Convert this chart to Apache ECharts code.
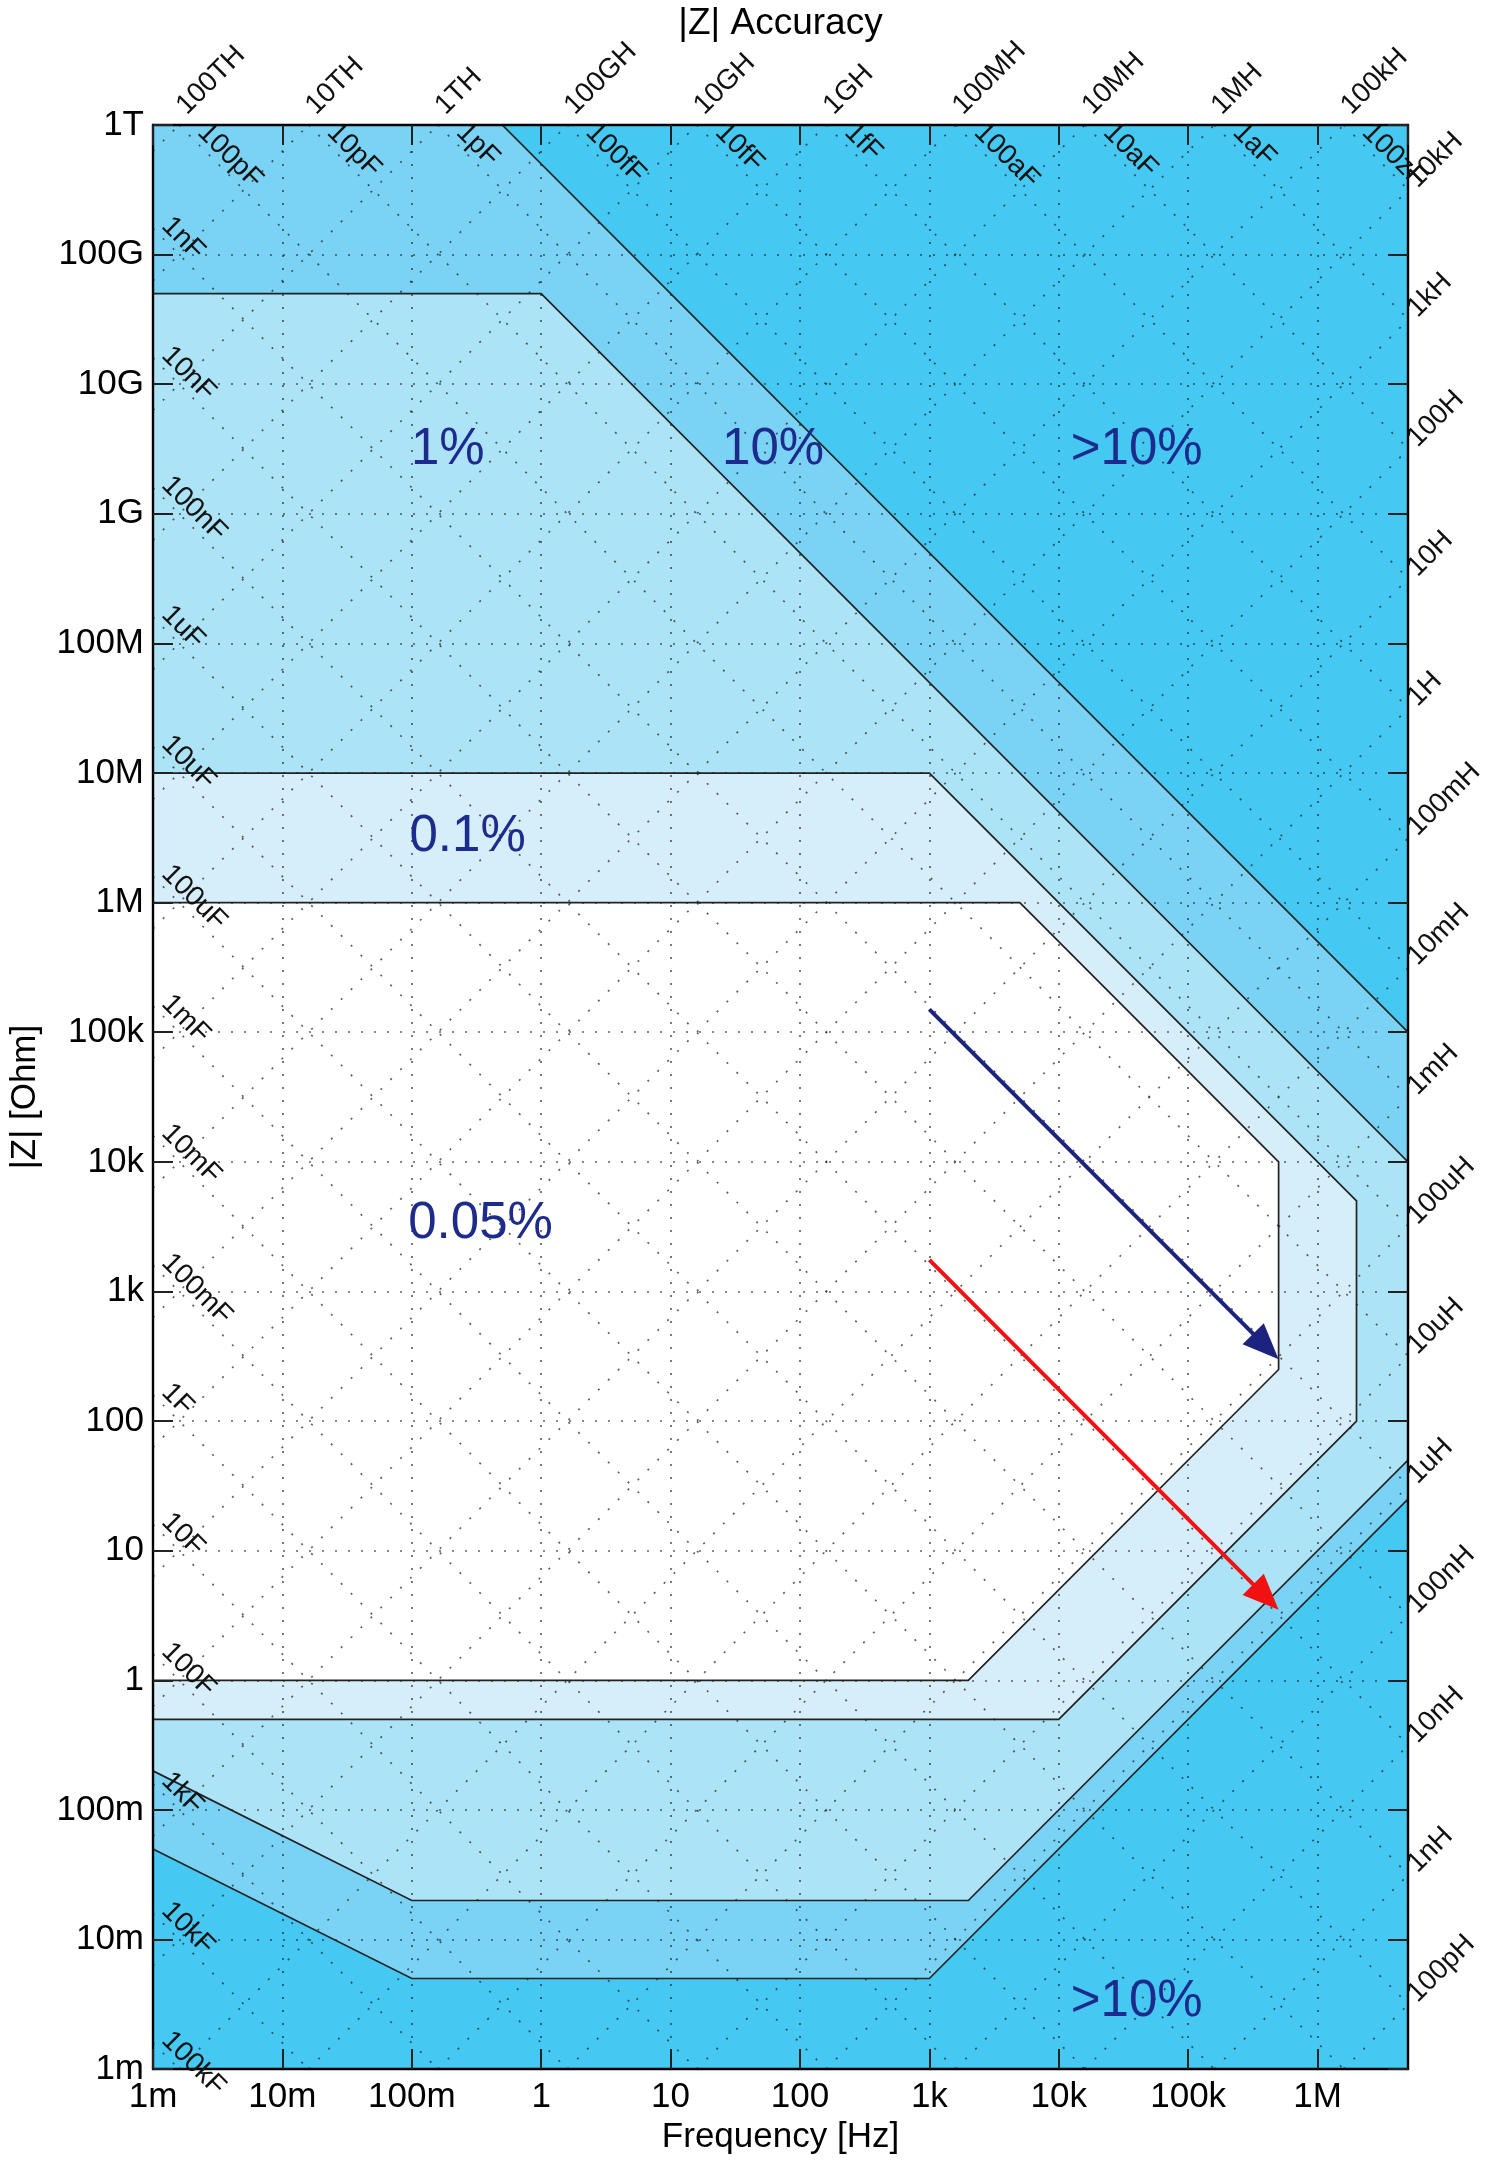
<!DOCTYPE html>
<html>
<head>
<meta charset="utf-8">
<script src="https://cdn.jsdelivr.net/npm/echarts@6/dist/echarts.min.js"></script>
<style>
html,body{margin:0;padding:0;background:#fff;}
#chart{width:1486px;height:2160px;}
</style>
</head>
<body>
<div id="chart"></div>
<script>
// ---------- axis ranges (Hz, Ohm) ----------
const freqRange = [1e-3, 5e6];
const zRange = [1e-3, 1e12];

// ---------- tick labels ----------
const xTickLabels = ['1m','10m','100m','1','10','100','1k','10k','100k','1M'];
const yTickLabels = ['1m','10m','100m','1','10','100','1k','10k','100k','1M','10M','100M','1G','10G','100G','1T'];

// capacitance (constant-C diagonals) [F]
const capValues = [1e-19,1e-18,1e-17,1e-16,1e-15,1e-14,1e-13,1e-12,1e-11,1e-10,1e-9,1e-8,1e-7,1e-6,1e-5,1e-4,1e-3,1e-2,1e-1,1,10,100,1e3,1e4,1e5];
const capLabels = ['100zF','1aF','10aF','100aF','1fF','10fF','100fF','1pF','10pF','100pF','1nF','10nF','100nF','1uF','10uF','100uF','1mF','10mF','100mF','1F','10F','100F','1kF','10kF','100kF'];

// inductance (constant-L diagonals) [H]
const indValues = [1e-10,1e-9,1e-8,1e-7,1e-6,1e-5,1e-4,1e-3,1e-2,1e-1,1,10,100,1e3,1e4,1e5,1e6,1e7,1e8,1e9,1e10,1e11,1e12,1e13,1e14];
const indLabels = ['100pH','1nH','10nH','100nH','1uH','10uH','100uH','1mH','10mH','100mH','1H','10H','100H','1kH','10kH','100kH','1MH','10MH','100MH','1GH','10GH','100GH','1TH','10TH','100TH'];

// ---------- accuracy zone outlines [f Hz, |Z| Ohm] ----------
const zone10 = [[1e-3,1e12],[0.5,1e12],[5e6,1e5],[5e6,25],[1e3,5e-3],[0.1,5e-3],[1e-3,5e-2]];
const zone1 = [[1e-3,5e10],[1,5e10],[5e6,1e4],[5e6,50],[2e3,2e-2],[0.1,2e-2],[1e-3,0.2]];
const zone01 = [[1e-3,1e7],[1e3,1e7],[2e6,5e3],[2e6,100],[1e4,0.5],[1e-3,0.5]];
const zone005 = [[1e-3,1e6],[5e3,1e6],[5e5,1e4],[5e5,250],[2e3,1],[1e-3,1]];

// zone annotations
const zoneTexts = ['1%','10%','>10%','0.1%','0.05%','>10%'];
const zoneTextPos = [[0.19,3.1e9],[62,3.1e9],[4e4,3.1e9],[0.27,3.2e6],[0.34,3.3e3],[4e4,3.3e-3]];

// arrows
const arrowFrom = [[1e3,1.5e5],[1e3,1750]];
const arrowTo = [[5e5,300],[5e5,3.5]];
const arrowColors = ['#1b237f','#f01212'];

// ---------- helpers ----------
const lg = Math.log10;
const LX0 = lg(freqRange[0]), LX1 = lg(freqRange[1]);
const LY0 = lg(zRange[0]), LY1 = lg(zRange[1]);
const TWO_PI = 2 * Math.PI;
const FONT = '"Liberation Sans", Arial, Helvetica, sans-serif';

function toLog(p){ return [lg(p[0]), lg(p[1])]; }

function zoneSeries(pts, fill, z){
  return {
    type:'custom', clip:true, silent:true, z:z,
    data: pts.map(toLog),
    encode:{x:0,y:1},
    renderItem:function(params, api){
      if (params.dataIndex !== 0) return null;
      const points = pts.map(function(p){ return api.coord(toLog(p)); });
      return {type:'polygon', shape:{points:points},
        style:{fill:fill, stroke:'#222', lineWidth:1.7}};
    }
  };
}

// constant-C line: log|Z| = k - log f, k = -log10(2 pi C)
function capSegment(c){
  const k = -lg(TWO_PI*c);
  const a = Math.max(LX0, k - LY1), b = Math.min(LX1, k - LY0);
  return [a, k - a, b, k - b];
}
// constant-L line: log|Z| = m + log f, m = log10(2 pi L)
function indSegment(l){
  const m = lg(TWO_PI*l);
  const a = Math.max(LX0, LY0 - m), b = Math.min(LX1, LY1 - m);
  return [a, m + a, b, m + b];
}

const diagData = capValues.map(capSegment).concat(indValues.map(indSegment));

// label anchors for diagonals
const diagLabelData = [];
capValues.forEach(function(c, i){
  const k = -lg(TWO_PI*c);
  if (k - LY1 >= LX0) diagLabelData.push([k - LY1, LY1, capLabels[i], 'ctop']);
  else diagLabelData.push([LX0, k - LX0, capLabels[i], 'cleft']);
});
indValues.forEach(function(l, i){
  const m = lg(TWO_PI*l);
  if (LY1 - m <= LX1) diagLabelData.push([LY1 - m, LY1, indLabels[i], 'ltop']);
  else diagLabelData.push([LX1, m + LX1, indLabels[i], 'lright']);
});

const labelOffsets = {ctop:[13,13,-1], cleft:[3,3,-1], ltop:[12,-5,1], lright:[14,3,1]};

function tickFmt(labels, base){
  return function(v){
    const r = Math.round(v);
    if (Math.abs(v - r) > 1e-6) return '';
    return labels[r - base] || '';
  };
}

const chart = echarts.init(document.getElementById('chart'), null, {renderer:'canvas'});

const DOT = 'rgba(30,30,30,0.7)';
const gridLine = {show:true, lineStyle:{type:[2,11], color:DOT, width:1.7}};
const tickStyle = {show:true, inside:true, length:20, lineStyle:{color:'#222', width:2}};
const axisLine = {show:true, onZero:false, lineStyle:{color:'#000', width:2.4}};

const option = {
  animation:false,
  backgroundColor:'#ffffff',
  grid:{left:146, right:78, top:121, bottom:89, show:true, backgroundColor:'#45c8f2', borderWidth:0},
  xAxis:[
    {type:'value', position:'bottom', min:LX0, max:LX1, interval:1, z:4,
     name:'Frequency [Hz]', nameLocation:'middle', nameGap:50,
     nameTextStyle:{fontFamily:FONT, fontSize:35, color:'#000'},
     axisLine:axisLine, axisTick:tickStyle, splitLine:gridLine,
     axisLabel:{show:true, margin:11, fontFamily:FONT, fontSize:35, color:'#000',
       showMaxLabel:false, formatter:tickFmt(xTickLabels, -3)}},
    {type:'value', position:'top', min:LX0, max:LX1, interval:1, z:4,
     name:'|Z| Accuracy', nameLocation:'middle', nameGap:83,
     nameTextStyle:{fontFamily:FONT, fontSize:37, color:'#000'},
     axisLine:axisLine, axisTick:tickStyle, splitLine:{show:false}, axisLabel:{show:false}}
  ],
  yAxis:[
    {type:'value', position:'left', min:LY0, max:LY1, interval:1, z:4,
     name:'|Z| [Ohm]', nameLocation:'middle', nameGap:110,
     nameTextStyle:{fontFamily:FONT, fontSize:35, color:'#000'},
     axisLine:axisLine, axisTick:tickStyle, splitLine:gridLine,
     axisLabel:{show:true, margin:9, fontFamily:FONT, fontSize:35, color:'#000',
       formatter:tickFmt(yTickLabels, -3)}},
    {type:'value', position:'right', min:LY0, max:LY1, interval:1, z:4,
     axisLine:axisLine, axisTick:tickStyle, splitLine:{show:false}, axisLabel:{show:false}}
  ],
  series:[
    zoneSeries(zone10, '#7ad3f5', 1),
    zoneSeries(zone1, '#ade3f6', 1),
    zoneSeries(zone01, '#d6eefa', 1),
    zoneSeries(zone005, '#ffffff', 1),
    {
      type:'custom', clip:true, silent:true, z:3,
      data:diagData, encode:{x:[0,2], y:[1,3]},
      renderItem:function(params, api){
        const p1 = api.coord([api.value(0), api.value(1)]);
        const p2 = api.coord([api.value(2), api.value(3)]);
        return {type:'line', shape:{x1:p1[0],y1:p1[1],x2:p2[0],y2:p2[1]},
          style:{stroke:DOT, lineWidth:1.7, lineDash:[2,12]}};
      }
    },
    {
      type:'custom', clip:false, silent:true, z:5,
      data:diagLabelData, encode:{x:0, y:1},
      renderItem:function(params, api){
        const d = diagLabelData[params.dataIndex];
        const p = api.coord([d[0], d[1]]);
        const o = labelOffsets[d[3]];
        return {type:'text', x:p[0]+o[0], y:p[1]+o[1], rotation:o[2]*Math.PI/4,
          style:{text:d[2], fontFamily:FONT, fontSize:28, fill:'#111', align:'left', verticalAlign:'bottom'}};
      }
    },
    {
      type:'custom', clip:false, silent:true, z:6,
      data:zoneTextPos.map(toLog), encode:{x:0, y:1},
      renderItem:function(params, api){
        const p = api.coord([api.value(0), api.value(1)]);
        return {type:'text', x:p[0], y:p[1],
          style:{text:zoneTexts[params.dataIndex], fontFamily:FONT, fontSize:51, fill:'#1c2b8c', align:'center', verticalAlign:'middle'}};
      }
    },
    {
      type:'custom', clip:false, silent:true, z:7,
      data:arrowFrom.map(function(a, i){ return toLog(a).concat(toLog(arrowTo[i])); }),
      encode:{x:[0,2], y:[1,3]},
      renderItem:function(params, api){
        const p1 = api.coord([api.value(0), api.value(1)]);
        const p2 = api.coord([api.value(2), api.value(3)]);
        const color = arrowColors[params.dataIndex];
        const dx = p2[0]-p1[0], dy = p2[1]-p1[1];
        const len = Math.sqrt(dx*dx+dy*dy), ux = dx/len, uy = dy/len;
        const HL = 36, HW = 15;
        const bx = p2[0]-ux*HL, by = p2[1]-uy*HL;
        return {type:'group', children:[
          {type:'line', shape:{x1:p1[0], y1:p1[1], x2:bx+ux*4, y2:by+uy*4}, style:{stroke:color, lineWidth:4}},
          {type:'polygon', shape:{points:[[p2[0],p2[1]],[bx-uy*HW, by+ux*HW],[bx+uy*HW, by-ux*HW]]}, style:{fill:color}}
        ]};
      }
    }
  ]
};
chart.setOption(option);
</script>
</body>
</html>
